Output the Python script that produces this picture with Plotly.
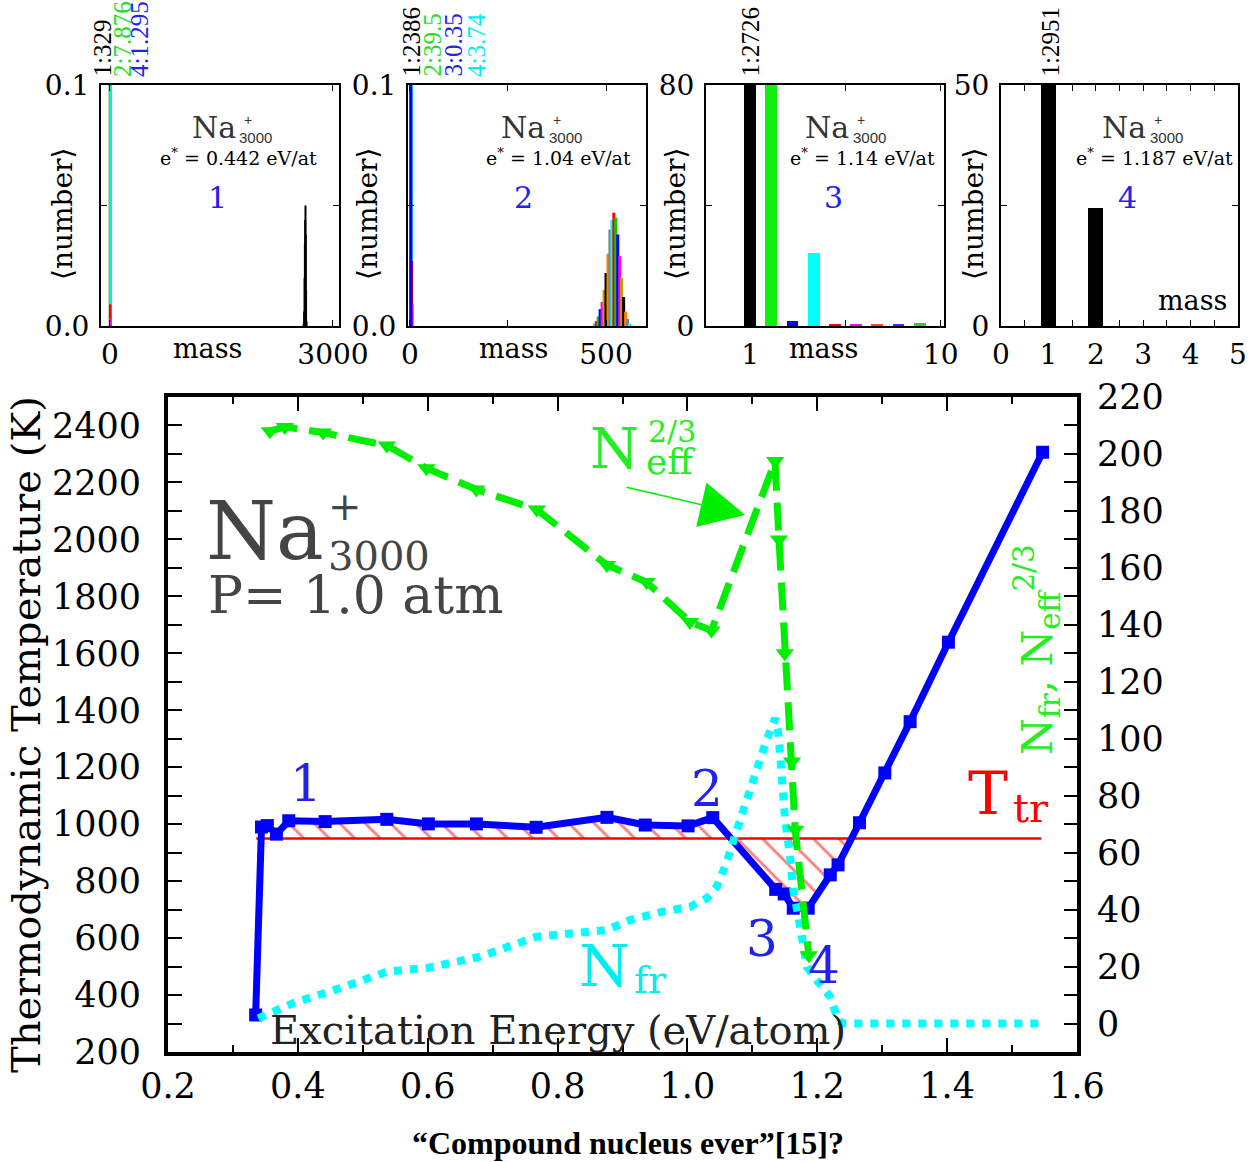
import numpy as np
import plotly.graph_objects as go

W, H = 1259, 1162
SERIF = "DejaVu Serif"

# ---------------- main panel data ----------------
E_T = [0.335, 0.344, 0.353, 0.367, 0.386, 0.442, 0.537, 0.601, 0.675, 0.767, 0.876, 0.935,
       1.001, 1.039, 1.136, 1.149, 1.163, 1.186, 1.220, 1.232, 1.265, 1.304, 1.343, 1.402, 1.547]
T_K = [330, 990, 995, 965, 1012, 1009, 1017, 1001, 1001, 989, 1024, 997,
       994, 1023, 771, 755, 705, 705, 822, 857, 1005, 1180, 1360, 1639, 2306]

T_TR = 950
E_TR = [0.336, 1.545]

E_FR = [0.339, 0.393, 0.470, 0.537, 0.599, 0.681, 0.768, 0.876, 0.912, 0.962, 1.004, 1.030,
        1.045, 1.060, 1.071, 1.086, 1.107, 1.122, 1.135, 1.140, 1.145, 1.150, 1.158, 1.163,
        1.171, 1.178, 1.184, 1.199, 1.220, 1.232, 1.240, 1.546]
N_FR = [1.8, 7.2, 12.8, 18.2, 19.5, 23.5, 30.5, 32.8, 36.4, 39.3, 41.0, 44.0,
        48.0, 56.3, 64.4, 75.0, 87.9, 99.6, 107.2, 102.0, 87.9, 72.6, 58.6, 46.9,
        37.5, 28.2, 19.9, 15.3, 9.4, 1.2, 0.0, 0.0]

E_EFF = [0.357, 0.380, 0.439, 0.537, 0.598, 0.675, 0.768, 0.876, 0.937, 1.004, 1.037,
         1.135, 1.141, 1.150, 1.161, 1.166, 1.187]
N_EFF = [208, 209.5, 207.5, 203, 195, 187.5, 180.5, 161, 155, 141, 138,
         197.5, 170, 130, 92, 68, 24]

X_TICKS = [0.2, 0.4, 0.6, 0.8, 1.0, 1.2, 1.4, 1.6]

# ---------------- inset data ----------------
P1_LOW_M = [1, 2, 4, 3, 5]
P1_LOW_V = [329, 7.876, 1.295, 0.009, 0.003]
P1_LOW_C = ["black", "#00e000", "rgba(0,255,255,0.75)", "red", "magenta"]
P1_PEAK_M = [2605, 2612, 2618, 2622, 2626, 2630, 2634, 2638, 2644]
P1_PEAK_V = [0.001, 0.006, 0.020, 0.034, 0.044, 0.050, 0.038, 0.015, 0.002]

P2_LOW_M = [1, 2, 4, 5, 6, 3]
P2_LOW_V = [2386, 39.5, 3.74, 0.027, 0.009, 0.35]
P2_LOW_C = ["black", "#00e000", "cyan", "red", "magenta", "blue"]
P2_PEAK_M = [470, 475, 480, 485, 490, 495, 500, 505, 510, 515, 520, 525, 530, 535, 540, 545, 550, 555, 560]
P2_PEAK_V = [0.001, 0.002, 0.004, 0.007, 0.010, 0.015, 0.022, 0.030, 0.040, 0.044, 0.047,
             0.045, 0.038, 0.029, 0.020, 0.012, 0.006, 0.003, 0.001]
P2_PEAK_C = ["cyan", "red", "#00d000", "blue", "magenta", "#c0a000", "black", "#ff8000", "gray"]

P3_M = [1, 2, 3, 4, 5, 6, 7, 8, 9]
P3_V = [2726, 80, 1.8, 24.3, 0.6, 0.4, 0.4, 0.5, 1.0]
P3_C = ["black", "#11ee11", "blue", "cyan", "red", "magenta", "#ff4500", "#3030ff", "#30d030"]

P4_M = [1, 2]
P4_V = [2951, 24.5]

fig = go.Figure()

# ---------- main traces ----------
E = np.array(E_T, dtype=float)
T = np.array(T_K, dtype=float)
ks = [k for k in range(1, len(T) - 1) if T[k] < T_TR <= T[k + 1]]
k = ks[-1]
xc = E[k] + (T_TR - T[k]) * (E[k + 1] - E[k]) / (T[k + 1] - T[k])
poly_x = list(E[1:k + 1]) + [xc, E[1]]
poly_y = list(T[1:k + 1]) + [T_TR, T_TR]

fig.add_trace(go.Scatter(x=poly_x, y=poly_y, fill="toself", mode="lines",
                         line=dict(width=0, color="rgba(0,0,0,0)"),
                         fillcolor="rgba(0,0,0,0)",
                         fillpattern=dict(shape="\\", fgcolor="#ff0000", bgcolor="rgba(0,0,0,0)",
                                          size=18, solidity=0.16),
                         hoverinfo="skip", showlegend=False, xaxis="x", yaxis="y"))
fig.add_trace(go.Scatter(x=E_TR, y=[T_TR, T_TR], mode="lines",
                         line=dict(color="red", width=2.5), showlegend=False,
                         xaxis="x", yaxis="y"))
fig.add_trace(go.Scatter(x=E_T, y=T_K, mode="lines+markers",
                         line=dict(color="#0000ff", width=7),
                         marker=dict(symbol="square", size=13, color="#0000ff"),
                         showlegend=False, xaxis="x", yaxis="y"))
fig.add_trace(go.Scatter(x=E_FR, y=N_FR, mode="lines",
                         line=dict(color="#00ffff", width=8, dash="dot"),
                         showlegend=False, xaxis="x", yaxis="y2"))
fig.add_trace(go.Scatter(x=E_EFF, y=N_EFF, mode="lines+markers",
                         line=dict(color="#00ee00", width=7, dash="28px,12px"),
                         marker=dict(symbol="triangle-down", size=16, color="#00ee00"),
                         showlegend=False, xaxis="x", yaxis="y2"))

# ---------- inset traces ----------
def vlines(ms, vs, colors, width, xa, ya):
    for i, (m, v) in enumerate(zip(ms, vs)):
        c = colors[i % len(colors)] if isinstance(colors, list) else colors
        fig.add_trace(go.Scatter(x=[m, m], y=[0, v], mode="lines",
                                 line=dict(color=c, width=width),
                                 showlegend=False, xaxis=xa, yaxis=ya))

vlines(P1_LOW_M, P1_LOW_V, P1_LOW_C, 2.5, "x3", "y3")
vlines(P1_PEAK_M, P1_PEAK_V, "black", 2, "x3", "y3")
vlines(P2_LOW_M, P2_LOW_V, P2_LOW_C, 2.5, "x4", "y4")
vlines(P2_PEAK_M, P2_PEAK_V, P2_PEAK_C, 3, "x4", "y4")

fig.add_trace(go.Bar(x=P3_M, y=P3_V, width=0.56, marker=dict(color=P3_C, line=dict(width=0)),
                     showlegend=False, xaxis="x5", yaxis="y5"))
fig.add_trace(go.Bar(x=P4_M, y=P4_V, width=0.32, marker=dict(color="black", line=dict(width=0)),
                     showlegend=False, xaxis="x6", yaxis="y6"))

# ---------- layout ----------
def dx(a, b):
    return [a / W, b / W]

def dy(top, bottom):
    return [1 - bottom / H, 1 - top / H]

tickfont_main = dict(family=SERIF, size=35, color="black")
fig.update_layout(
    width=W, height=H, autosize=False,
    margin=dict(l=0, r=0, t=0, b=0, pad=0, autoexpand=False),
    paper_bgcolor="white", plot_bgcolor="white",
    bargap=0,
    xaxis=dict(domain=dx(168, 1077), range=[0.2, 1.6], anchor="y", automargin=False,
               tickvals=X_TICKS, ticktext=["%.1f" % v for v in X_TICKS],
               ticks="inside", ticklen=14, tickwidth=2, tickcolor="black",
               showline=True, linewidth=4, linecolor="black", mirror="ticks",
               showgrid=False, zeroline=False, tickfont=tickfont_main,
               ticklabelstandoff=0,
               minor=dict(dtick=0.1, tick0=0.2, ticks="inside", ticklen=7, tickwidth=2,
                          tickcolor="black", showgrid=False)),
    yaxis=dict(domain=dy(397, 1052), range=[200, 2500], anchor="x", automargin=False,
               tick0=200, dtick=200, ticks="inside", ticklen=14, tickwidth=2,
               tickcolor="black", showline=True, linewidth=4, linecolor="black",
               showgrid=False, zeroline=False, tickfont=tickfont_main,
               ticklabelstandoff=16,
               minor=dict(dtick=100, tick0=200, ticks="inside", ticklen=14, tickwidth=2,
                          tickcolor="black", showgrid=False)),
    yaxis2=dict(range=[-10, 220], overlaying="y", side="right", anchor="x", automargin=False,
                tick0=0, dtick=20, ticks="inside", ticklen=13, tickwidth=2,
                tickcolor="black", showline=True, linewidth=4, linecolor="black",
                showgrid=False, zeroline=False, tickfont=tickfont_main,
                ticklabelstandoff=9,
                minor=dict(dtick=10, tick0=0, ticks="inside", ticklen=13, tickwidth=2,
                           tickcolor="black", showgrid=False)),
)

panel_font = dict(family=SERIF, size=28, color="black")
panels = [
    ("x3", "y3", (101, 339), [-121, 3081], [0, 3000], ["0", "3000"], [0, 0.1],
     [0, 0.05, 0.1], ["0.0", "", "0.1"]),
    ("x4", "y4", (408, 646), [-5, 602], [0, 250, 500], ["0", "", "500"], [0, 0.1],
     [0, 0.05, 0.1], ["0.0", "", "0.1"]),
    ("x5", "y5", (706, 944), [-1.08, 10.15], [1, 5.5, 10], ["1", "", "10"], [0, 80],
     [0, 40, 80], ["0", "", "80"]),
    ("x6", "y6", (1001, 1238), [0, 5], [0, 0.5, 1, 1.5, 2, 2.5, 3, 3.5, 4, 4.5, 5],
     ["0", "", "1", "", "2", "", "3", "", "4", "", "5"], [0, 50],
     [0, 25, 50], ["0", "", "50"]),
]
for xa, ya, (l, r), xr, xtv, xtt, yr, ytv, ytt in panels:
    xkey = "xaxis" + xa[1:]
    ykey = "yaxis" + ya[1:]
    fig.update_layout(**{
        xkey: dict(domain=dx(l, r), range=xr, anchor=ya, tickvals=xtv, ticktext=xtt,
                   ticks="inside", ticklen=6, tickwidth=1, tickcolor="black",
                   showline=True, linewidth=2, linecolor="black", mirror="ticks",
                   showgrid=False, zeroline=False, tickfont=panel_font,
                   ticklabelstandoff=2, automargin=False),
        ykey: dict(domain=dy(85, 326), range=yr, anchor=xa, tickvals=ytv, ticktext=ytt,
                   ticks="inside", ticklen=6, tickwidth=1, tickcolor="black",
                   showline=True, linewidth=2, linecolor="black", mirror="ticks",
                   showgrid=False, zeroline=False, tickfont=panel_font,
                   ticklabelstandoff=4, automargin=False),
    })

# ---------- annotations ----------
anns = []

def ann(text, x, y, size, color="black", family=SERIF, angle=0, xa="center", ya="middle"):
    anns.append(dict(text=text, x=x / W, y=1 - y / H, xref="paper", yref="paper",
                     showarrow=False, textangle=angle, xanchor=xa, yanchor=ya,
                     font=dict(family=family, size=size, color=color)))

BLUE_TXT = "#2222ee"
GREEN_TXT = "#22ee22"
GRAY = "#444444"

# main
ann("Thermodynamic Temperature (K)", 26, 735, 40, angle=-90)
ann("Excitation Energy (eV/atom)", 558, 1030, 40, color="#222222")
ann("Na", 265, 532, 80, color=GRAY)
ann("+", 345, 506, 40, color=GRAY)
ann("3000", 379, 556, 40, color=GRAY)
ann("P= 1.0 atm", 356, 595, 52, color=GRAY)
ann("1", 306, 784, 50, color=BLUE_TXT)
ann("2", 707, 789, 50, color=BLUE_TXT)
ann("3", 762, 939, 50, color=BLUE_TXT)
ann("4", 824, 966, 50, color=BLUE_TXT)
ann("N", 604, 966, 58, color="#00eeee")
ann("fr", 650, 980, 38, color="#00eeee")
ann("T", 988, 793, 60, color="red")
ann("tr", 1031, 808, 40, color="red")
ann("N", 614, 449, 56, color=GREEN_TXT)
ann("2/3", 672, 431, 30, color=GREEN_TXT)
ann("eff", 670, 461, 36, color=GREEN_TXT)
ann("N<sub>fr</sub>, N<sub>eff</sub><sup>2/3</sup>", 1037, 650, 42, color=GREEN_TXT, angle=-90)
ann("<b>“Compound nucleus ever”[15]?</b>", 628, 1143, 32, family="Liberation Serif")

# arrow for N_eff label
anns.append(dict(x=1.089, y=2086, xref="x", yref="y", ax=0.904, ay=2184, axref="x", ayref="y",
                 text="", showarrow=True, arrowhead=2, arrowsize=6, arrowwidth=1.5,
                 arrowcolor="#00ee00"))

# insets
inset_txt = [
    (214, "e<sup>*</sup> = 0.442 eV/at", 238, "1", 217),
    (523, "e<sup>*</sup> = 1.04 eV/at", 558, "2", 523),
    (827, "e<sup>*</sup> = 1.14 eV/at", 862, "3", 833),
    (1124, "e<sup>*</sup> = 1.187 eV/at", 1154, "4", 1127),
]
for cx, etxt, ex, num, nx in inset_txt:
    ann("Na", cx, 128, 30, color="#333333")
    ann("+", cx + 34, 120, 14, color="#333333", family="Liberation Sans")
    ann("3000", cx + 42, 137, 15, color="#333333", family="Liberation Sans")
    ann(etxt, ex, 157, 19)
    ann(num, nx, 197, 30, color=BLUE_TXT)

for x in (63, 368, 676, 974):
    ann("⟨number⟩", x, 214, 28, angle=-90)
for x in (207, 513, 823):
    ann("mass", x, 349, 27)
ann("mass", 1192, 300, 27)

tops = [
    ("1:329", 102, "black"), ("2:7.876", 122, "#22dd22"), ("4:1.295", 139, "#2222ee"),
    ("1:2386", 411, "black"), ("2:39.5", 432, "#22dd22"), ("3:0.35", 453, "#2222ee"),
    ("4:3.74", 476, "#00eeee"),
    ("1:2726", 750, "black"), ("1:2951", 1050, "black"),
]
for t, x, c in tops:
    ann(t, x, 79, 25, color=c, family="Liberation Serif", angle=-90, ya="bottom")

fig.update_layout(annotations=anns)

fig.write_html("out.html", post_script="document.body.style.margin='0';",
               config={"displayModeBar": False})
